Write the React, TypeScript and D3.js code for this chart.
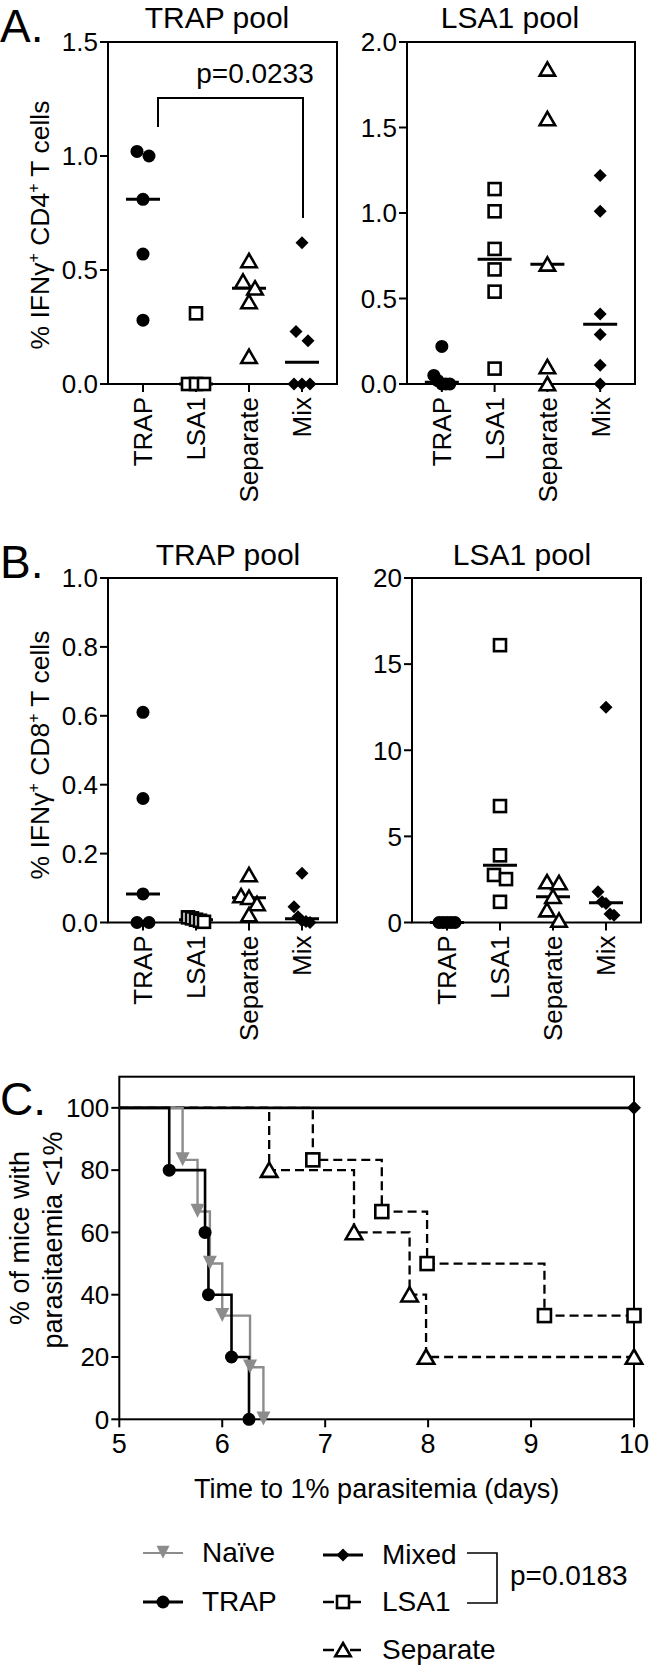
import React from 'react';
import * as d3 from 'd3';

// ---------- categories ----------
const categories = ['TRAP', 'LSA1', 'Separate', 'Mix'];
const categoryShapes = ['circle', 'square', 'triangle', 'diamond'];

// ---------- Panel A: IFNγ+ CD4+ T cells ----------
const aTrapPool_TRAP = [1.02, 1.0, 0.81, 0.57, 0.28];
const aTrapPool_LSA1 = [0.31, 0, 0, 0];
const aTrapPool_Separate = [0.54, 0.45, 0.42, 0.36, 0.12];
const aTrapPool_Mix = [0.62, 0.23, 0.19, 0, 0, 0];
const aTrapTicks = [0, 0.5, 1.0, 1.5];

const aLsaPool_TRAP = [0.22, 0.05, 0.02, 0, 0, 0];
const aLsaPool_LSA1 = [1.14, 1.01, 0.79, 0.67, 0.54, 0.09];
const aLsaPool_Separate = [1.84, 1.55, 0.7, 0.1, 0];
const aLsaPool_Mix = [1.22, 1.01, 0.41, 0.29, 0.11, 0];
const aLsaTicks = [0, 0.5, 1.0, 1.5, 2.0];

// ---------- Panel B: IFNγ+ CD8+ T cells ----------
const bTrapPool_TRAP = [0.61, 0.36, 0.083, 0, 0];
const bTrapPool_LSA1 = [0.015, 0.012, 0.008, 0.005, 0.002];
const bTrapPool_Separate = [0.138, 0.077, 0.072, 0.054, 0.022];
const bTrapPool_Mix = [0.143, 0.046, 0.017, 0.005, 0.003, 0];
const bTrapTicks = [0, 0.2, 0.4, 0.6, 0.8, 1.0];

const bLsaPool_TRAP = [0, 0, 0, 0, 0];
const bLsaPool_LSA1 = [16.1, 6.76, 3.9, 2.76, 2.52, 1.2];
const bLsaPool_Separate = [2.35, 2.3, 1.5, 0.72, 0.12];
const bLsaPool_Mix = [12.5, 1.78, 1.2, 1.1, 0.5, 0.42];
const bLsaTicks = [0, 5, 10, 15, 20];

// ---------- Panel C: survival ----------
const survivalXTicks = [5, 6, 7, 8, 9, 10];
const survivalYTicks = [0, 20, 40, 60, 80, 100];
const naiveTimes = [5.615, 5.76, 5.88, 6.0, 6.27, 6.4];
const naiveSurv = [83.3, 66.7, 50, 33.3, 16.7, 0];
const trapTimes = [5.485, 5.833, 5.866, 6.09, 6.26];
const trapSurv = [80, 60, 40, 20, 0];
const mixedTimes = [10];
const mixedSurv = [100];
const lsa1Times = [6.88, 7.55, 7.99, 9.13, 10];
const lsa1Surv = [83.3, 66.7, 50, 33.3, 33.3];
const separateTimes = [6.456, 7.28, 7.82, 7.98, 10];
const separateSurv = [80, 60, 40, 20, 20];

const FONT = '"Liberation Sans", Arial, Helvetica, sans-serif';
const GRAY = '#8c8c8c';

function Marker({ shape, x, y, size = 13, fill = '#000' }: any) {
  const h = size / 2;
  if (shape === 'circle') return <circle cx={x} cy={y} r={h} fill={fill} />;
  if (shape === 'square')
    return <rect x={x - h + 0.5} y={y - h + 0.5} width={size - 1} height={size - 1} fill="#fff" stroke="#000" strokeWidth={2.6} />;
  if (shape === 'triangle') {
    const s = size + 1;
    const p = `M${x},${y - s * 0.5} L${x + s * 0.55},${y + s * 0.45} L${x - s * 0.55},${y + s * 0.45} Z`;
    return <path d={p} fill="#fff" stroke="#000" strokeWidth={2.6} strokeLinejoin="miter" />;
  }
  if (shape === 'down') {
    const s = size;
    const p = `M${x - s * 0.5},${y - s * 0.55} L${x + s * 0.5},${y - s * 0.55} L${x},${y + s * 0.45} Z`;
    return <path d={p} fill={fill} />;
  }
  if (shape === 'diamond') {
    const p = `M${x},${y - h} L${x + h},${y} L${x},${y + h} L${x - h},${y} Z`;
    return <path d={p} fill={fill} />;
  }
  return null;
}

function spreadOffsets(values: number[], y: (v: number) => number) {
  const idx = values.map((_, i) => i).sort((a, b) => values[b] - values[a]);
  const groups: number[][] = [];
  let prev: number | null = null;
  idx.forEach(i => {
    const py = y(values[i]);
    if (prev !== null && Math.abs(py - prev) < 11) groups[groups.length - 1].push(i);
    else groups.push([i]);
    prev = py;
  });
  const off = new Array(values.length).fill(0);
  groups.forEach(g => {
    const n = g.length;
    const step = n > 1 ? Math.min(12, 16 / (n - 1)) : 0;
    g.forEach((i, k) => (off[i] = (k - (n - 1) / 2) * step));
  });
  return off;
}

function SupLabel({ cx, cy, mid }: any) {
  return (
    <text transform={`translate(${cx},${cy}) rotate(-90)`} textAnchor="middle" dy="0.35em" fontSize={26.5} fontFamily={FONT}>
      % IFNγ<tspan dy={-10} fontSize={16}>+</tspan>
      <tspan dy={10}> {mid}</tspan>
      <tspan dy={-10} fontSize={16}>+</tspan>
      <tspan dy={10}> T cells</tspan>
    </text>
  );
}

function ScatterPanel({ left, right, top, bottom, yMax, ticks, fmt, data, title, titleX, titleY }: any) {
  const x = d3.scalePoint().domain(categories).range([left, right]).padding(0.66);
  const y = d3.scaleLinear().domain([0, yMax]).range([bottom, top]);
  const f = d3.format(fmt);
  return (
    <g>
      <text x={titleX} y={titleY} textAnchor="middle" fontSize={30} fontFamily={FONT}>{title}</text>
      <rect x={left} y={top} width={right - left} height={bottom - top} fill="none" stroke="#000" strokeWidth={2} />
      {ticks.map((t: number) => (
        <g key={t}>
          <line x1={left - 8} x2={left} y1={y(t)} y2={y(t)} stroke="#000" strokeWidth={2} />
          <text x={left - 10} y={y(t)} dy="0.36em" textAnchor="end" fontSize={26} fontFamily={FONT}>{f(t)}</text>
        </g>
      ))}
      {categories.map(c => (
        <g key={c}>
          <line x1={x(c)} x2={x(c)} y1={bottom} y2={bottom + 8} stroke="#000" strokeWidth={2} />
          <text transform={`translate(${x(c)},${bottom + 13}) rotate(-90)`} textAnchor="end" dy="0.36em" fontSize={26} fontFamily={FONT}>{c}</text>
        </g>
      ))}
      {categories.map((c, ci) => {
        const vals: number[] = data[ci];
        const med = d3.median(vals) as number;
        return <line key={'m' + c} x1={(x(c) as number) - 17} x2={(x(c) as number) + 17} y1={y(med)} y2={y(med)} stroke="#000" strokeWidth={3} />;
      })}
      {categories.map((c, ci) => {
        const vals: number[] = data[ci];
        const off = spreadOffsets(vals, y);
        return vals.map((v, i) => (
          <Marker key={c + i} shape={categoryShapes[ci]} x={(x(c) as number) + off[i]} y={y(v)} />
        ));
      })}
    </g>
  );
}

function SurvivalPanel() {
  const left = 119.3, right = 634, top = 1076.7, bottom = 1419.3;
  const x = d3.scaleLinear().domain([5, 10]).range([left, right]);
  const y = d3.scaleLinear().domain([0, 110]).range([bottom, top]);
  const step = d3.line<[number, number]>().x(d => x(d[0])).y(d => y(d[1])).curve(d3.curveStepAfter);
  const path = (times: number[], surv: number[]) =>
    step([[5, 100] as [number, number]].concat(times.map((t, i) => [t, surv[i]] as [number, number])));
  const series = [
    { times: mixedTimes, surv: mixedSurv, color: '#000', dash: null, shape: 'diamond', w: 2.6 },
    { times: lsa1Times, surv: lsa1Surv, color: '#000', dash: '9,5', shape: 'square', w: 2.3 },
    { times: separateTimes, surv: separateSurv, color: '#000', dash: '9,5', shape: 'triangle', w: 2.3 },
    { times: naiveTimes, surv: naiveSurv, color: GRAY, dash: null, shape: 'down', w: 2.4 },
    { times: trapTimes, surv: trapSurv, color: '#000', dash: null, shape: 'circle', w: 2.6 },
  ];
  return (
    <g>
      <rect x={left} y={top} width={right - left} height={bottom - top} fill="none" stroke="#000" strokeWidth={2} />
      {survivalYTicks.map(t => (
        <g key={t}>
          <line x1={left - 8} x2={left} y1={y(t)} y2={y(t)} stroke="#000" strokeWidth={2} />
          <text x={left - 10} y={y(t)} dy="0.36em" textAnchor="end" fontSize={26} fontFamily={FONT}>{t}</text>
        </g>
      ))}
      {survivalXTicks.map(t => (
        <g key={t}>
          <line x1={x(t)} x2={x(t)} y1={bottom} y2={bottom + 8} stroke="#000" strokeWidth={2} />
          <text x={x(t)} y={1453} textAnchor="middle" fontSize={27} fontFamily={FONT}>{t}</text>
        </g>
      ))}
      <text x={(left + right) / 2} y={1498} textAnchor="middle" fontSize={27} fontFamily={FONT}>Time to 1% parasitemia (days)</text>
      <text transform={`translate(20,1238) rotate(-90)`} textAnchor="middle" dy="0.35em" fontSize={27} fontFamily={FONT}>% of mice with</text>
      <text transform={`translate(53,1240) rotate(-90)`} textAnchor="middle" dy="0.35em" fontSize={27} fontFamily={FONT}>parasitaemia &lt;1%</text>
      {series.map((s, i) => (
        <path key={'p' + i} d={path(s.times, s.surv) || ''} fill="none" stroke={s.color} strokeWidth={s.w} strokeDasharray={s.dash || undefined} />
      ))}
      {series.map((s, i) =>
        s.times.map((t, j) => (
          <Marker key={'mk' + i + '-' + j} shape={s.shape} x={x(t)} y={y(s.surv[j])} size={s.shape === 'circle' ? 13 : 14} fill={s.color} />
        ))
      )}
    </g>
  );
}

function Legend() {
  const items = [
    { label: 'Naïve', x0: 143, y: 1553, color: GRAY, w: 2, shape: 'down', dash: null },
    { label: 'TRAP', x0: 143, y: 1602, color: '#000', w: 3.2, shape: 'circle', dash: null },
    { label: 'Mixed', x0: 323, y: 1555, color: '#000', w: 3.2, shape: 'diamond', dash: null },
    { label: 'LSA1', x0: 323, y: 1602, color: '#000', w: 2.5, shape: 'square', dash: '11,6,4,6' },
    { label: 'Separate', x0: 323, y: 1650, color: '#000', w: 2.5, shape: 'triangle', dash: '11,6,4,6' },
  ];
  return (
    <g>
      {items.map(it => (
        <g key={it.label}>
          <line x1={it.x0} x2={it.x0 + 40} y1={it.y} y2={it.y} stroke={it.color} strokeWidth={it.w} strokeDasharray={it.dash || undefined} />
          <Marker shape={it.shape} x={it.x0 + 20} y={it.y} size={13} fill={it.color} />
          <text x={it.x0 + 59} y={it.y + 9} fontSize={28} fontFamily={FONT}>{it.label}</text>
        </g>
      ))}
      <path d="M467,1553 H497 V1603 H467" fill="none" stroke="#000" strokeWidth={1.6} />
      <text x={510} y={1585} fontSize={28} fontFamily={FONT}>p=0.0183</text>
    </g>
  );
}

export default function App() {
  return (
    <svg width={650} height={1666} style={{ position: 'absolute', left: 0, top: 0, background: '#fff' }}>
      <rect width={650} height={1666} fill="#fff" />
      <text x={0} y={42} fontSize={46} fontFamily={FONT}>A.</text>
      <text x={0} y={578} fontSize={46} fontFamily={FONT}>B.</text>
      <text x={0} y={1115} fontSize={46} fontFamily={FONT}>C.</text>

      <SupLabel cx={40} cy={225} mid="CD4" />
      <SupLabel cx={40} cy={755} mid="CD8" />

      <ScatterPanel left={108} right={337} top={42} bottom={384} yMax={1.5} ticks={aTrapTicks} fmt=".1f"
        data={[aTrapPool_TRAP, aTrapPool_LSA1, aTrapPool_Separate, aTrapPool_Mix]} title="TRAP pool" titleX={217} titleY={28} />
      <path d="M158,127 V98 H303 V218" fill="none" stroke="#000" strokeWidth={2} />
      <text x={255} y={83} textAnchor="middle" fontSize={28} fontFamily={FONT}>p=0.0233</text>

      <ScatterPanel left={407} right={635} top={42} bottom={384} yMax={2.0} ticks={aLsaTicks} fmt=".1f"
        data={[aLsaPool_TRAP, aLsaPool_LSA1, aLsaPool_Separate, aLsaPool_Mix]} title="LSA1 pool" titleX={510} titleY={28} />

      <ScatterPanel left={108} right={337} top={578} bottom={922.5} yMax={1.0} ticks={bTrapTicks} fmt=".1f"
        data={[bTrapPool_TRAP, bTrapPool_LSA1, bTrapPool_Separate, bTrapPool_Mix]} title="TRAP pool" titleX={228} titleY={565} />

      <ScatterPanel left={412} right={641} top={578} bottom={922.5} yMax={20} ticks={bLsaTicks} fmt="d"
        data={[bLsaPool_TRAP, bLsaPool_LSA1, bLsaPool_Separate, bLsaPool_Mix]} title="LSA1 pool" titleX={522} titleY={565} />

      <SurvivalPanel />
      <Legend />
    </svg>
  );
}
